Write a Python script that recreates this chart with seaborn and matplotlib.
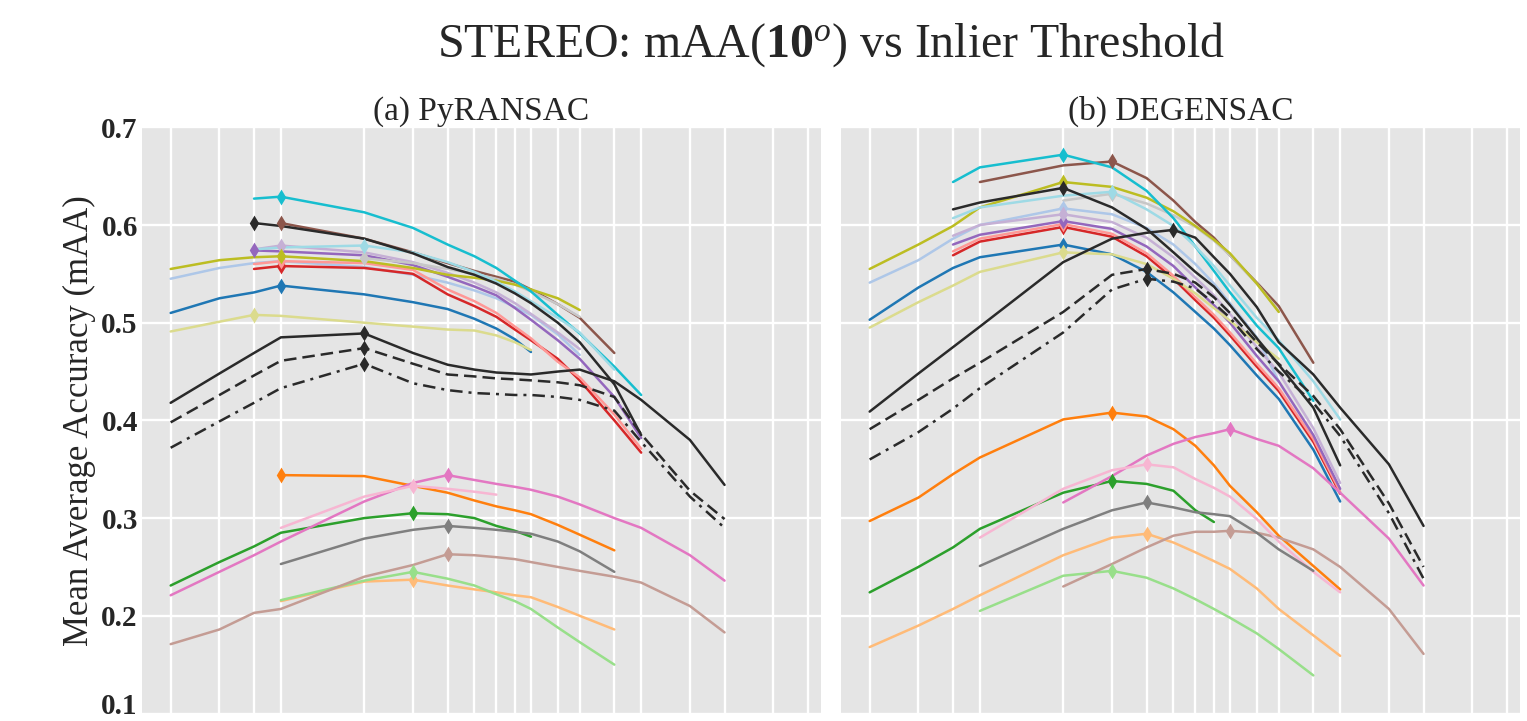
import numpy as np
import pandas as pd
import matplotlib
matplotlib.use("Agg")
import matplotlib.pyplot as plt
import matplotlib.transforms as mtransforms
import seaborn as sns
from matplotlib.ticker import FixedLocator, NullLocator, NullFormatter

N = None

# ---------------- data ----------------
thresholds = [0.1, 0.15, 0.2, 0.25, 0.5, 0.75, 1, 1.25, 1.5, 1.75, 2, 2.5, 3, 4, 5, 7.5, 10, 15, 20]
y_ticks = [0.1, 0.2, 0.3, 0.4, 0.5, 0.6, 0.7]

title_main = r"STEREO: mAA($\mathbf{10}^{o}$) vs Inlier Threshold"
panel_titles = ["(a) PyRANSAC", "(b) DEGENSAC"]
y_label = "Mean Average Accuracy (mAA)"

# (a) PyRANSAC
pyr_blue        = [0.510, 0.525, 0.531, 0.538, 0.529, 0.521, 0.514, 0.504, 0.494, 0.483, 0.470, N, N, N, N, N, N, N, N]
pyr_lightblue   = [0.545, 0.556, 0.561, 0.563, 0.557, 0.549, 0.541, 0.533, 0.525, 0.516, 0.508, 0.488, 0.467, N, N, N, N, N, N]
pyr_orange      = [N, N, N, 0.344, 0.343, 0.333, 0.326, 0.318, 0.312, 0.308, 0.304, 0.293, 0.283, 0.267, N, N, N, N, N]
pyr_lightorange = [N, N, N, 0.215, 0.235, 0.237, 0.231, 0.227, 0.224, 0.221, 0.219, 0.209, 0.200, 0.186, N, N, N, N, N]
pyr_green       = [0.231, 0.255, 0.271, 0.285, 0.300, 0.305, 0.304, 0.300, 0.292, 0.287, 0.281, N, N, N, N, N, N, N, N]
pyr_lightgreen  = [N, N, N, 0.216, 0.236, 0.245, 0.238, 0.231, 0.222, 0.215, 0.207, 0.188, 0.173, 0.150, N, N, N, N, N]
pyr_red         = [N, N, 0.555, 0.558, 0.556, 0.550, 0.529, 0.517, 0.506, 0.493, 0.482, 0.463, 0.441, 0.400, 0.367, N, N, N, N]
pyr_lightred    = [N, N, 0.560, 0.563, 0.561, 0.554, 0.534, 0.522, 0.510, 0.496, 0.484, 0.460, 0.444, 0.406, 0.371, N, N, N, N]
pyr_purple      = [N, N, 0.574, 0.573, 0.569, 0.559, 0.547, 0.537, 0.528, 0.515, 0.503, 0.482, 0.463, 0.424, 0.382, N, N, N, N]
pyr_lightpurple = [N, N, 0.575, 0.579, 0.572, 0.562, 0.551, 0.541, 0.531, 0.520, 0.509, 0.490, 0.473, N, N, N, N, N, N]
pyr_brown       = [N, N, N, 0.602, 0.586, 0.572, 0.561, 0.553, 0.547, 0.542, 0.534, 0.519, 0.505, 0.469, N, N, N, N, N]
pyr_lightbrown  = [0.171, 0.186, 0.203, 0.207, 0.240, 0.252, 0.263, 0.262, 0.260, 0.258, 0.255, 0.250, 0.246, 0.240, 0.234, 0.210, 0.183, N, N]
pyr_pink        = [0.221, 0.245, 0.262, 0.276, 0.317, 0.336, 0.344, 0.339, 0.335, 0.332, 0.329, 0.322, 0.314, 0.300, 0.290, 0.262, 0.236, N, N]
pyr_lightpink   = [N, N, N, 0.290, 0.322, 0.333, 0.330, 0.327, 0.324, N, N, N, N, N, N, N, N, N, N]
pyr_gray        = [N, N, N, 0.253, 0.279, 0.288, 0.292, 0.290, 0.288, 0.286, 0.284, 0.276, 0.266, 0.245, N, N, N, N, N]
pyr_lightgray   = [N, N, N, N, 0.566, 0.561, 0.555, 0.550, 0.545, 0.539, 0.532, 0.519, 0.506, N, N, N, N, N, N]
pyr_olive       = [0.555, 0.564, 0.567, 0.568, 0.563, 0.556, 0.549, 0.546, 0.543, 0.539, 0.534, 0.525, 0.513, N, N, N, N, N, N]
pyr_lightolive  = [0.491, 0.501, 0.508, 0.507, 0.500, 0.496, 0.493, 0.492, 0.487, 0.480, 0.472, N, N, N, N, N, N, N, N]
pyr_cyan        = [N, N, 0.627, 0.629, 0.613, 0.597, 0.580, 0.568, 0.556, 0.543, 0.532, 0.508, 0.489, 0.455, 0.426, N, N, N, N]
pyr_lightcyan   = [N, N, 0.575, 0.577, 0.579, 0.572, 0.562, 0.552, 0.542, 0.532, 0.522, 0.505, 0.490, 0.452, N, N, N, N, N]
pyr_black_top   = [N, N, 0.602, 0.599, 0.586, 0.571, 0.557, 0.549, 0.540, 0.530, 0.520, 0.500, 0.480, 0.437, 0.385, N, N, N, N]
pyr_black       = [0.418, 0.448, 0.469, 0.485, 0.489, 0.469, 0.457, 0.452, 0.449, 0.448, 0.447, 0.450, 0.452, 0.440, 0.421, 0.380, 0.334, N, N]
pyr_dashed      = [0.398, 0.426, 0.446, 0.461, 0.474, 0.458, 0.447, 0.445, 0.443, 0.442, 0.441, 0.439, 0.436, 0.424, 0.386, 0.328, 0.299, N, N]
pyr_dashdot     = [0.372, 0.399, 0.418, 0.433, 0.458, 0.438, 0.431, 0.428, 0.427, 0.426, 0.426, 0.424, 0.421, 0.410, 0.378, 0.322, 0.290, N, N]

# (b) DEGENSAC
deg_blue        = [0.503, 0.536, 0.556, 0.567, 0.580, 0.570, 0.552, 0.531, 0.511, 0.494, 0.477, 0.446, 0.422, 0.370, 0.317, N, N, N, N]
deg_lightblue   = [0.541, 0.564, 0.586, 0.600, 0.617, 0.611, 0.597, 0.580, 0.560, 0.540, 0.520, 0.485, 0.440, N, N, N, N, N, N]
deg_orange      = [0.297, 0.321, 0.345, 0.362, 0.401, 0.408, 0.404, 0.391, 0.374, 0.354, 0.333, 0.306, 0.282, 0.251, 0.227, N, N, N, N]
deg_lightorange = [0.168, 0.190, 0.207, 0.221, 0.262, 0.280, 0.284, 0.275, 0.265, 0.256, 0.248, 0.228, 0.207, 0.180, 0.159, N, N, N, N]
deg_green       = [0.224, 0.250, 0.270, 0.289, 0.326, 0.338, 0.335, 0.328, 0.308, 0.296, N, N, N, N, N, N, N, N, N]
deg_lightgreen  = [N, N, N, 0.205, 0.241, 0.246, 0.239, 0.228, 0.217, 0.207, 0.198, 0.182, 0.166, 0.139, N, N, N, N, N]
deg_red         = [N, N, 0.569, 0.583, 0.598, 0.588, 0.568, 0.545, 0.523, 0.505, 0.487, 0.455, 0.430, 0.378, 0.325, N, N, N, N]
deg_lightred    = [N, N, 0.573, 0.586, 0.601, 0.591, 0.571, 0.548, 0.526, 0.508, 0.490, 0.458, 0.433, 0.381, 0.327, N, N, N, N]
deg_purple      = [N, N, 0.580, 0.590, 0.604, 0.596, 0.578, 0.558, 0.536, 0.518, 0.500, 0.466, 0.440, 0.385, 0.330, N, N, N, N]
deg_lightpurple = [N, N, 0.589, 0.600, 0.611, 0.603, 0.587, 0.567, 0.546, 0.528, 0.509, 0.475, 0.449, 0.392, 0.336, N, N, N, N]
deg_brown       = [N, N, N, 0.644, 0.661, 0.665, 0.648, 0.625, 0.603, 0.587, 0.569, 0.541, 0.517, 0.459, N, N, N, N, N]
deg_lightbrown  = [N, N, N, N, 0.230, 0.253, 0.270, 0.282, 0.286, 0.286, 0.287, 0.285, 0.280, 0.268, 0.250, 0.207, 0.161, N, N]
deg_pink        = [N, N, N, N, 0.316, 0.343, 0.364, 0.376, 0.383, 0.387, 0.391, 0.381, 0.374, 0.351, 0.326, 0.279, 0.231, N, N]
deg_lightpink   = [N, N, N, 0.280, 0.330, 0.349, 0.355, 0.352, 0.340, 0.331, 0.322, 0.299, 0.276, 0.245, 0.224, N, N, N, N]
deg_gray        = [N, N, N, 0.251, 0.289, 0.308, 0.316, 0.311, 0.306, 0.304, 0.302, 0.285, 0.268, 0.246, N, N, N, N, N]
deg_lightgray   = [N, N, N, N, 0.625, 0.632, 0.622, 0.610, 0.598, 0.584, 0.569, 0.540, 0.512, N, N, N, N, N, N]
deg_olive       = [0.555, 0.580, 0.599, 0.618, 0.644, 0.639, 0.628, 0.614, 0.599, 0.585, 0.571, 0.540, 0.511, N, N, N, N, N, N]
deg_lightolive  = [0.495, 0.521, 0.538, 0.552, 0.572, 0.570, 0.560, 0.545, 0.530, 0.515, 0.502, 0.480, 0.463, N, N, N, N, N, N]
deg_cyan        = [N, N, 0.644, 0.659, 0.672, 0.659, 0.635, 0.607, 0.578, 0.553, 0.531, 0.497, 0.474, 0.420, N, N, N, N, N]
deg_lightcyan   = [N, N, 0.607, 0.618, 0.630, 0.634, 0.616, 0.599, 0.578, 0.558, 0.538, 0.505, 0.482, 0.440, 0.401, N, N, N, N]
deg_black_top   = [N, N, 0.616, 0.623, 0.638, 0.618, 0.596, 0.572, 0.552, 0.537, 0.518, 0.484, 0.457, 0.413, 0.354, N, N, N, N]
deg_black       = [0.409, 0.448, 0.475, 0.496, 0.562, 0.586, 0.592, 0.595, 0.587, 0.567, 0.550, 0.516, 0.480, 0.447, 0.413, 0.355, 0.292, N, N]
deg_dashed      = [0.391, 0.421, 0.443, 0.459, 0.511, 0.549, 0.555, 0.550, 0.541, 0.526, 0.510, 0.480, 0.458, 0.425, 0.391, 0.315, 0.250, N, N]
deg_dashdot     = [0.360, 0.388, 0.412, 0.433, 0.490, 0.534, 0.545, 0.542, 0.535, 0.520, 0.505, 0.473, 0.450, 0.418, 0.384, 0.305, 0.238, N, N]

series_names = ["blue", "lightblue", "orange", "lightorange", "green", "lightgreen",
                "red", "lightred", "purple", "lightpurple", "brown", "lightbrown",
                "pink", "lightpink", "gray", "lightgray", "olive", "lightolive",
                "cyan", "lightcyan", "black_top", "black", "dashed", "dashdot"]

pyr_series = [pyr_blue, pyr_lightblue, pyr_orange, pyr_lightorange, pyr_green, pyr_lightgreen,
              pyr_red, pyr_lightred, pyr_purple, pyr_lightpurple, pyr_brown, pyr_lightbrown,
              pyr_pink, pyr_lightpink, pyr_gray, pyr_lightgray, pyr_olive, pyr_lightolive,
              pyr_cyan, pyr_lightcyan, pyr_black_top, pyr_black, pyr_dashed, pyr_dashdot]
deg_series = [deg_blue, deg_lightblue, deg_orange, deg_lightorange, deg_green, deg_lightgreen,
              deg_red, deg_lightred, deg_purple, deg_lightpurple, deg_brown, deg_lightbrown,
              deg_pink, deg_lightpink, deg_gray, deg_lightgray, deg_olive, deg_lightolive,
              deg_cyan, deg_lightcyan, deg_black_top, deg_black, deg_dashed, deg_dashdot]

# ---------------- style ----------------
sns.set_theme(style="darkgrid", rc={
    "axes.facecolor": "#E5E5E5",
    "grid.color": "white",
    "grid.linewidth": 1.7,
    "axes.edgecolor": "#E5E5E5",
})
plt.rcParams["font.family"] = ["Liberation Serif", "DejaVu Serif"]
plt.rcParams["mathtext.fontset"] = "custom"
plt.rcParams["mathtext.rm"] = "Liberation Serif"
plt.rcParams["mathtext.it"] = "Liberation Serif:italic"
plt.rcParams["mathtext.bf"] = "Liberation Serif:bold"

palette = sns.color_palette("tab20", 20)
black_col = "#2a2a2a"
line_colors = list(palette) + [black_col] * 4
line_styles = ["-"] * 22 + [(0, (5, 2.4)), (0, (5, 2.4, 1.2, 2.4))]

# long-form table
rows = []
for panel, block in zip(panel_titles, [pyr_series, deg_series]):
    for name, vals in zip(series_names, block):
        for t, v in zip(thresholds, vals):
            if v is not None:
                rows.append((panel, name, t, v))
df = pd.DataFrame(rows, columns=["panel", "method", "threshold", "mAA"])

W, H = 1527, 721
fig = plt.figure(figsize=(W / 100, H / 100), dpi=100)
ax_h = (713.5 - 127.3) / H
ax_b = (H - 713.5) / H
ax_w = 679 / W
ax1 = fig.add_axes([142 / W, ax_b, ax_w, ax_h])
ax2 = fig.add_axes([841 / W, ax_b, ax_w, ax_h], sharey=ax1)

for ax, panel in zip([ax1, ax2], panel_titles):
    ax.set_xscale("log")
    sub = df[df["panel"] == panel]
    for name, col, ls in zip(series_names, line_colors, line_styles):
        d = sub[sub["method"] == name]
        if d.empty:
            continue
        sns.lineplot(data=d, x="threshold", y="mAA", ax=ax, color=col,
                     linestyle=ls, linewidth=1.8, estimator=None, errorbar=None,
                     legend=False)
        best = d.loc[[d["mAA"].idxmax()]]
        sns.scatterplot(data=best, x="threshold", y="mAA", ax=ax, color=col,
                        marker="d", s=65, linewidth=0, legend=False, zorder=5)
    ax.set_xlim(0.0788, 22.3)
    ax.set_ylim(0.1, 0.7)
    ax.xaxis.set_major_locator(FixedLocator(thresholds))
    ax.xaxis.set_minor_locator(NullLocator())
    ax.xaxis.set_major_formatter(NullFormatter())
    ax.xaxis.set_minor_formatter(NullFormatter())
    ax.set_yticks(y_ticks)
    ax.set_xlabel("")
    ax.set_ylabel("")
    ax.tick_params(axis="both", length=0, pad=3)
    ax.grid(True, which="major", color="white", linewidth=1.7)
    for s in ax.spines.values():
        s.set_visible(False)
    ax.set_title(panel, fontsize=24, pad=5)

ylabels = ax1.get_yticklabels()
for lab in ylabels:
    lab.set_fontweight("bold")
    lab.set_fontsize(21)
# keep the lowest tick label inside the canvas (nudge up a few pixels)
ylabels[0].set_transform(ylabels[0].get_transform() +
                         mtransforms.ScaledTranslation(0, 10 / 100, fig.dpi_scale_trans))
plt.setp(ax2.get_yticklabels(), visible=False)
ax1.set_ylabel(y_label, fontsize=25, labelpad=4)

fig.text((142 + 1520) / 2 / W, 1 - 45 / H, title_main, ha="center", va="center", fontsize=34.5)

fig.savefig("out.png", dpi=100)
